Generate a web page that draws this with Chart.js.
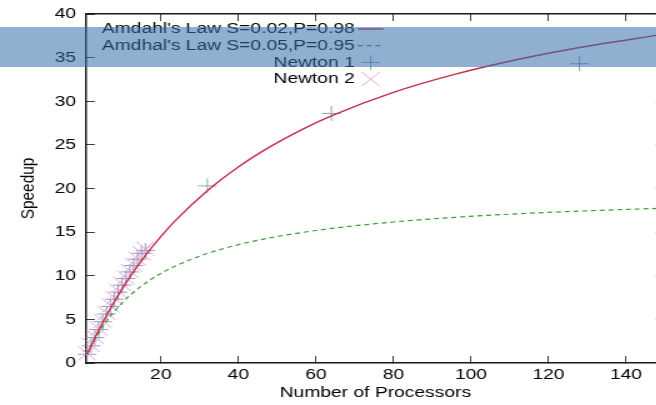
<!DOCTYPE html>
<html>
<head>
<meta charset="utf-8">
<script src="https://cdn.jsdelivr.net/npm/chart.js@4.4.1/dist/chart.umd.min.js"></script>
<style>
    body { margin: 0; background: #fff; overflow: hidden; width: 656px; height: 405px; position: relative; }
    #wrap { position: absolute; left: 0; top: 0; transform: scaleX(1.25); transform-origin: 0 0; }
    #band { position: absolute; left: 0; top: 27px; width: 656px; height: 40px; background: rgba(51,111,170,0.55); }
</style>
</head>
<body>
<div id="wrap"><canvas id="speedChart" width="545" height="405"></canvas></div>
<div id="band"></div>
<script>
// curve samples
let curveN     = [1, 2, 3, 4, 6, 8, 10, 12, 16, 20, 24, 32, 40, 48, 56, 64, 80, 96, 112, 128, 150];
let amdahl98   = [1.0, 1.96, 2.88, 3.77, 5.45, 7.02, 8.47, 9.84, 12.31, 14.49, 16.44, 19.75, 22.47, 24.74, 26.67, 28.32, 31.01, 33.10, 34.78, 36.16, 37.69];
let amdahl95   = [1.0, 1.90, 2.73, 3.48, 4.80, 5.93, 6.90, 7.74, 9.14, 10.26, 11.16, 12.55, 13.56, 14.33, 14.93, 15.42, 16.16, 16.70, 17.10, 17.41, 17.75];

let newton1N   = [1, 2, 3, 4, 5, 6, 7, 8, 9, 10, 11, 12, 13, 14, 15, 16, 32, 64, 128];
let newton1    = [1.0, 1.97, 2.92, 3.84, 4.74, 5.62, 6.48, 7.31, 8.12, 8.92, 9.69, 10.44, 11.17, 11.89, 12.58, 12.9, 20.3, 28.6, 34.3];
let newton2N   = [1, 2, 3, 4, 5, 6, 7, 8, 9, 10, 11, 12, 13, 14, 15, 16];
let newton2    = [1.1, 2.05, 3.0, 3.95, 4.85, 5.75, 6.6, 7.45, 8.25, 9.05, 9.8, 10.55, 11.25, 11.95, 12.6, 13.1];

let xTicks = [20, 40, 60, 80, 100, 120, 140];
let yTicks = [0, 5, 10, 15, 20, 25, 30, 35, 40];

let legendLabels = ["Amdahl's Law S=0.02,P=0.98", "Amdhal's Law S=0.05,P=0.95", "Newton 1", "Newton 2"];

const FONT = {family: '"Liberation Sans", Arial, sans-serif', size: 15.4};

function pairs(xs, ys){
    return xs.map((x, i) => ({x: x, y: ys[i]}));
}

// inward tick marks + closed frame, gnuplot look
function frameGrid(){
    return {display: true, drawOnChartArea: false, drawTicks: true, tickLength: -7, color: '#404040', lineWidth: 1};
}
const FRAME_BORDER = {display: true, color: '#1a1a1a', width: 1.5};

// keep label overflow from pushing the plot area around
function noPad(s){
    s.paddingTop = 0; s.paddingBottom = 0; s.paddingLeft = 0; s.paddingRight = 0;
}

// key in the top left corner, text right aligned, sample after it
const gnuplotKey = {
    id: 'gnuplotKey',
    afterDraw(chart){
        const ctx = chart.ctx;
        const a = chart.chartArea;
        ctx.save();
        ctx.font = FONT.size + 'px ' + FONT.family;
        ctx.fillStyle = '#000';
        ctx.textAlign = 'right';
        ctx.textBaseline = 'middle';
        const textRight = a.left + 215;
        const sampleL = textRight + 2.5, sampleR = textRight + 23;
        chart.data.datasets.forEach((ds, i) => {
            let y = a.top + 15 + i * 16.7;
            ctx.fillText(legendLabels[i], textRight, y);
            ctx.save();
            ctx.strokeStyle = ds.borderColor;
            ctx.lineWidth = ds.borderWidth;
            if(ds.showLine){
                ctx.setLineDash(ds.borderDash || []);
                ctx.beginPath(); ctx.moveTo(sampleL, y); ctx.lineTo(sampleR, y); ctx.stroke();
            } else {
                let cx = (sampleL + sampleR) / 2, r = ds.pointRadius;
                ctx.beginPath();
                if(ds.pointStyle == 'cross'){
                    ctx.moveTo(cx - r, y); ctx.lineTo(cx + r, y);
                    ctx.moveTo(cx, y - r); ctx.lineTo(cx, y + r);
                } else {
                    let d = r * 0.7071;
                    ctx.moveTo(cx - d, y - d); ctx.lineTo(cx + d, y + d);
                    ctx.moveTo(cx - d, y + d); ctx.lineTo(cx + d, y - d);
                }
                ctx.stroke();
            }
            ctx.restore();
        });
        ctx.restore();
    }
};

new Chart(document.getElementById('speedChart'), {
    type: 'scatter',
    data: {
        datasets: [
            {
                data: pairs(curveN, amdahl98),
                showLine: true, borderColor: '#c62c4e', borderWidth: 1.4,
                pointRadius: 0, tension: 0.4, cubicInterpolationMode: 'monotone', order: 0
            },
            {
                data: pairs(curveN, amdahl95),
                showLine: true, borderColor: '#3f9a40', borderWidth: 1.2, borderDash: [4, 3],
                pointRadius: 0, tension: 0.4, cubicInterpolationMode: 'monotone', order: 1
            },
            {
                data: pairs(newton1N, newton1),
                showLine: false, pointStyle: 'cross', pointRadius: 7.5, borderWidth: 1,
                borderColor: 'rgba(120,150,180,0.85)', backgroundColor: 'transparent', clip: false, order: 3
            },
            {
                data: pairs(newton2N, newton2),
                showLine: false, pointStyle: 'crossRot', pointRadius: 10, borderWidth: 1,
                borderColor: 'rgba(225,140,200,0.8)', backgroundColor: 'transparent', clip: false, order: 2
            }
        ]
    },
    options: {
        responsive: false,
        animation: false,
        devicePixelRatio: 1,
        layout: {padding: {top: 14, right: 13.2, left: 0, bottom: 0}},
        plugins: {legend: {display: false}, tooltip: {enabled: false}},
        scales: {
            x: {
                type: 'linear', position: 'bottom', min: 0.7, max: 150,
                grid: frameGrid(), border: FRAME_BORDER,
                afterBuildTicks: s => { s.ticks = xTicks.map(v => ({value: v})); },
                afterFit: s => { s.height = 42; noPad(s); },
                ticks: {color: '#000', font: FONT, padding: 10, maxRotation: 0, autoSkip: false},
                title: {display: true, text: 'Number of Processors', color: '#000', font: FONT, padding: {top: 0, bottom: 3}}
            },
            x2: {
                type: 'linear', position: 'top', min: 0.7, max: 150,
                grid: frameGrid(), border: FRAME_BORDER,
                afterBuildTicks: s => { s.ticks = xTicks.map(v => ({value: v})); },
                afterFit: s => { s.height = 0; noPad(s); },
                ticks: {display: false}
            },
            y: {
                type: 'linear', position: 'left', min: 0, max: 40,
                grid: frameGrid(), border: FRAME_BORDER,
                afterBuildTicks: s => { s.ticks = yTicks.map(v => ({value: v})); },
                afterFit: s => { s.width = 68.8; noPad(s); },
                ticks: {color: '#000', font: FONT, padding: 15},
                title: {display: true, text: 'Speedup', color: '#000', font: FONT, padding: {top: 14, bottom: 0}}
            },
            y2: {
                type: 'linear', position: 'right', min: 0, max: 40,
                grid: frameGrid(), border: FRAME_BORDER,
                afterBuildTicks: s => { s.ticks = yTicks.map(v => ({value: v})); },
                afterFit: s => { s.width = 0; noPad(s); },
                ticks: {display: false}
            }
        }
    },
    plugins: [gnuplotKey]
});
</script>
</body>
</html>
